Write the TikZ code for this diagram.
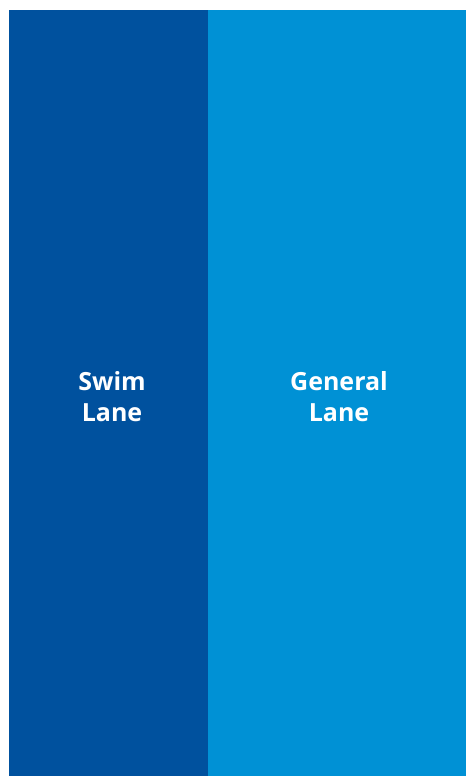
\documentclass[tikz,border=0pt]{standalone}
\usepackage{fontspec}
\setmainfont{Open Sans}
\usepackage{xcolor}
\usepackage{tikz}
\usetikzlibrary{positioning}
\definecolor{swimblue}{HTML}{00519E}
\definecolor{generalblue}{HTML}{0091D5}

\begin{document}
\begin{tikzpicture}[x=1pt, y=-1pt,
    lanelabel/.style={text=white, font=\bfseries\fontsize{25}{31}\selectfont, align=center}]
  \useasboundingbox (0,0) rectangle (466,776);
  \fill[swimblue] (9,10) rectangle (208,776);
  \fill[generalblue] (208,10) rectangle (466,776);
  \node[lanelabel] (swim) at (112,397) {Swim\\Lane};
  \node[lanelabel] (general) at (339,397) {General\\Lane};
\end{tikzpicture}
\end{document}
